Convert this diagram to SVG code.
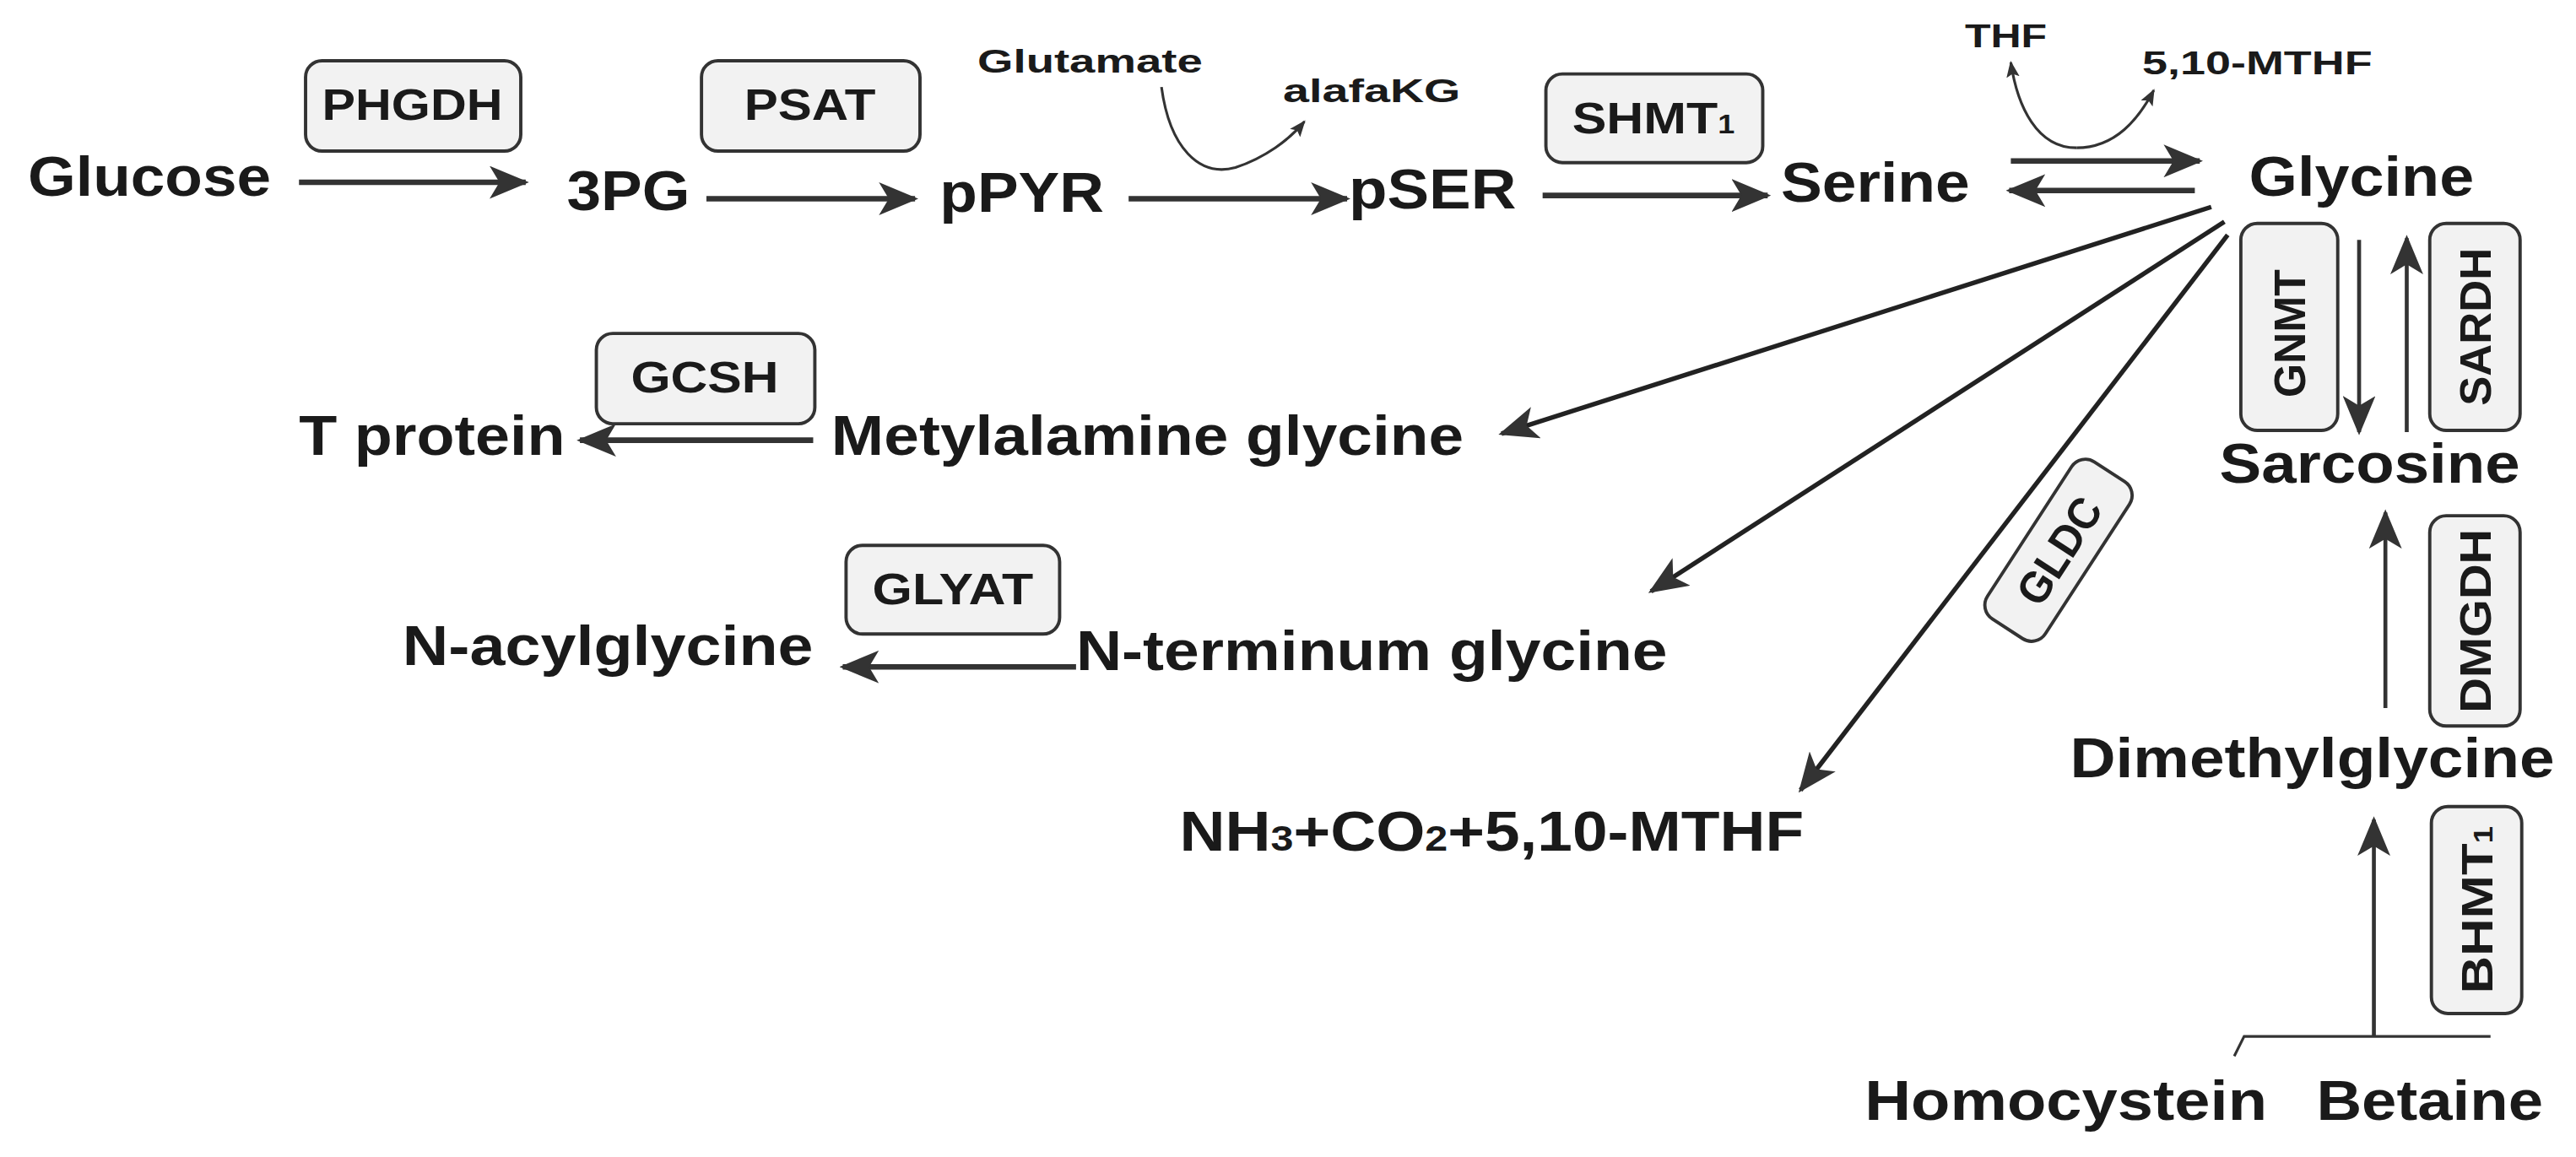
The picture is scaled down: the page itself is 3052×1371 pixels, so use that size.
<svg xmlns="http://www.w3.org/2000/svg" width="3052" height="1371" viewBox="0 0 3052 1371">
<style>
.t{font-family:"Liberation Sans",Arial,sans-serif;font-weight:bold;fill:#1a1a1a}
.m{font-size:34px}
.s{font-size:20px}
.b{font-size:27px}
.box{fill:#f2f2f2;stroke:#333;stroke-width:2}
.c{fill:none;stroke:#333;stroke-width:3.4}
.d{fill:none;stroke:#222;stroke-width:2.8}
.v{fill:none;stroke:#333;stroke-width:2.4}
.n{fill:none;stroke:#333;stroke-width:1.6}
</style>
<defs>
<marker id="a" viewBox="0 0 24 20" refX="22" refY="10" markerWidth="24" markerHeight="20" markerUnits="userSpaceOnUse" orient="auto"><path d="M0,0 L24,10 L0,20 L6,10 z" fill="#333"/></marker>
<marker id="p" viewBox="0 0 10 8" refX="9" refY="4" markerWidth="10" markerHeight="8" markerUnits="userSpaceOnUse" orient="auto"><path d="M0,0 L10,4 L0,8 L2,4 z" fill="#333"/></marker>
</defs>
<rect width="3052" height="1371" fill="#fff"/>
<g transform="scale(1.9464)">
<g id="connectors">
<line class="c" x1="182" y1="111" x2="320" y2="111" marker-end="url(#a)"/>
<line class="c" x1="430" y1="121" x2="557" y2="121" marker-end="url(#a)"/>
<line class="c" x1="687" y1="121" x2="820" y2="121" marker-end="url(#a)"/>
<line class="c" x1="939" y1="119" x2="1076" y2="119" marker-end="url(#a)"/>
<path class="n" d="M707,53 C712,90 730,108 752,102 C770,96 785,85 794,74" marker-end="url(#p)"/>
<path class="n" d="M1264,90 C1240,90 1228,65 1224,38" marker-end="url(#p)"/>
<path class="n" d="M1264,90 C1288,90 1302,72 1311,55" marker-end="url(#p)"/>
<line class="c" x1="1224" y1="98" x2="1339" y2="98" marker-end="url(#a)"/>
<line class="c" x1="1336" y1="116" x2="1223" y2="116" marker-end="url(#a)"/>
<line class="d" x1="1346" y1="126" x2="914" y2="264" marker-end="url(#a)"/>
<line class="d" x1="1354" y1="135" x2="1005" y2="360" marker-end="url(#a)"/>
<line class="d" x1="1356" y1="143" x2="1096" y2="481" marker-end="url(#a)"/>
<line class="v" x1="1436" y1="146" x2="1436" y2="263" marker-end="url(#a)"/>
<line class="v" x1="1465" y1="263" x2="1465" y2="145" marker-end="url(#a)"/>
<line class="v" x1="1452" y1="431" x2="1452" y2="312" marker-end="url(#a)"/>
<line class="v" x1="1445" y1="631" x2="1445" y2="499" marker-end="url(#a)"/>
<path class="n" d="M1360,643 L1366,631 L1516,631"/>
<line class="c" x1="495" y1="268" x2="353" y2="268" marker-end="url(#a)"/>
<line class="c" x1="655" y1="406" x2="513" y2="406" marker-end="url(#a)"/>
</g>
<g id="n-glucose"><text class="t m" x="17" y="119" textLength="148" lengthAdjust="spacingAndGlyphs">Glucose</text></g>
<g id="e-phgdh"><rect class="box" x="186" y="37" width="131" height="55" rx="10"/><text class="t b" x="251" y="73" text-anchor="middle" textLength="110" lengthAdjust="spacingAndGlyphs">PHGDH</text></g>
<g id="n-3pg"><text class="t m" x="345" y="128" textLength="75" lengthAdjust="spacingAndGlyphs">3PG</text></g>
<g id="e-psat"><rect class="box" x="427" y="37" width="133" height="55" rx="10"/><text class="t b" x="493" y="73" text-anchor="middle" textLength="80" lengthAdjust="spacingAndGlyphs">PSAT</text></g>
<g id="n-ppyr"><text class="t m" x="572" y="129" textLength="100" lengthAdjust="spacingAndGlyphs">pPYR</text></g>
<g id="n-glutamate"><text class="t s" x="595" y="44" textLength="137" lengthAdjust="spacingAndGlyphs">Glutamate</text></g>
<g id="n-alafakg"><text class="t s" x="781" y="62" textLength="108" lengthAdjust="spacingAndGlyphs">alafaKG</text></g>
<g id="n-pser"><text class="t m" x="821" y="127" textLength="102" lengthAdjust="spacingAndGlyphs">pSER</text></g>
<g id="e-shmt1"><rect class="box" x="941" y="45" width="132" height="54" rx="10"/><text class="t b" x="957" y="81" textLength="99" lengthAdjust="spacingAndGlyphs">SHMT<tspan font-size="16">1</tspan></text></g>
<g id="n-serine"><text class="t m" x="1084" y="123" textLength="115" lengthAdjust="spacingAndGlyphs">Serine</text></g>
<g id="n-thf"><text class="t s" x="1196" y="29" textLength="50" lengthAdjust="spacingAndGlyphs">THF</text></g>
<g id="n-mthf"><text class="t s" x="1304" y="45" textLength="140" lengthAdjust="spacingAndGlyphs">5,10-MTHF</text></g>
<g id="n-glycine"><text class="t m" x="1369" y="119" textLength="137" lengthAdjust="spacingAndGlyphs">Glycine</text></g>
<g id="e-gnmt"><rect class="box" x="1364" y="136" width="59" height="126" rx="10"/><text class="t b" transform="translate(1403,203) rotate(-90)" text-anchor="middle" textLength="78" lengthAdjust="spacingAndGlyphs">GNMT</text></g>
<g id="e-sardh"><rect class="box" x="1479" y="136" width="55" height="126" rx="10"/><text class="t b" transform="translate(1516,199) rotate(-90)" text-anchor="middle" textLength="96" lengthAdjust="spacingAndGlyphs">SARDH</text></g>
<g id="n-sarcosine"><text class="t m" x="1351" y="294" textLength="183" lengthAdjust="spacingAndGlyphs">Sarcosine</text></g>
<g id="e-gldc"><g transform="translate(1253,335) rotate(-57)"><rect class="box" x="-57" y="-21" width="114" height="42" rx="10"/><text class="t b" x="0" y="10" text-anchor="middle" textLength="72" lengthAdjust="spacingAndGlyphs">GLDC</text></g></g>
<g id="e-dmgdh"><rect class="box" x="1479" y="314" width="55" height="128" rx="10"/><text class="t b" transform="translate(1516,378) rotate(-90)" text-anchor="middle" textLength="112" lengthAdjust="spacingAndGlyphs">DMGDH</text></g>
<g id="n-dimethylglycine"><text class="t m" x="1260" y="473" textLength="295" lengthAdjust="spacingAndGlyphs">Dimethylglycine</text></g>
<g id="e-bhmt1"><rect class="box" x="1480" y="491" width="55" height="126" rx="10"/><text class="t b" transform="translate(1517,554) rotate(-90)" text-anchor="middle" textLength="102" lengthAdjust="spacingAndGlyphs">BHMT<tspan font-size="16">1</tspan></text></g>
<g id="n-homocystein"><text class="t m" x="1135" y="682" textLength="245" lengthAdjust="spacingAndGlyphs">Homocystein</text></g>
<g id="n-betaine"><text class="t m" x="1410" y="682" textLength="138" lengthAdjust="spacingAndGlyphs">Betaine</text></g>
<g id="e-gcsh"><rect class="box" x="363" y="203" width="133" height="55" rx="10"/><text class="t b" x="429" y="239" text-anchor="middle" textLength="90" lengthAdjust="spacingAndGlyphs">GCSH</text></g>
<g id="n-tprotein"><text class="t m" x="182" y="277" textLength="162" lengthAdjust="spacingAndGlyphs">T protein</text></g>
<g id="n-metylalamine"><text class="t m" x="506" y="277" textLength="385" lengthAdjust="spacingAndGlyphs">Metylalamine glycine</text></g>
<g id="e-glyat"><rect class="box" x="515" y="332" width="130" height="54" rx="10"/><text class="t b" x="580" y="368" text-anchor="middle" textLength="98" lengthAdjust="spacingAndGlyphs">GLYAT</text></g>
<g id="n-nacyl"><text class="t m" x="245" y="405" textLength="250" lengthAdjust="spacingAndGlyphs">N-acylglycine</text></g>
<g id="n-nterm"><text class="t m" x="655" y="408" textLength="360" lengthAdjust="spacingAndGlyphs">N-terminum glycine</text></g>
<g id="n-nh3"><text class="t m" x="718" y="518" textLength="380" lengthAdjust="spacingAndGlyphs">NH<tspan font-size="22">3</tspan>+CO<tspan font-size="22">2</tspan>+5,10-MTHF</text></g>
</g>
</svg>
